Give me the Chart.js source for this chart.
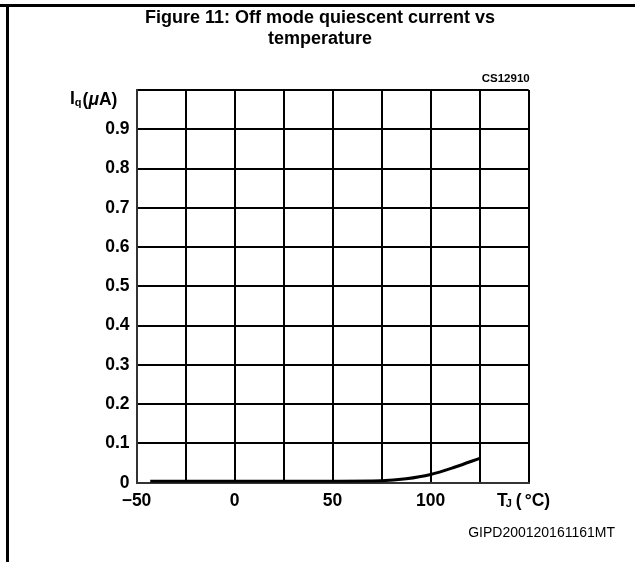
<!DOCTYPE html>
<html lang="en">
<head>
<meta charset="UTF-8">
<title>Figure 11: Off mode quiescent current vs temperature</title>
<script src="https://cdn.jsdelivr.net/npm/chart.js"></script>
<style>
    * { margin: 0; padding: 0; box-sizing: border-box; }
    body { background: #fff; width: 635px; height: 562px; overflow: hidden; }
    #wrap { position: relative; width: 635px; height: 562px; }
</style>
</head>
<body>
<div id="wrap"><canvas id="chart" width="635" height="562"></canvas></div>
<script>
    // data
    const tempC = [-43, 0, 50, 75, 87.5, 100, 112.5, 125];
    const iqUA = [0.004, 0.004, 0.004, 0.005, 0.010, 0.021, 0.040, 0.062];

    // labelled ticks
    const xTickLabels = [-50, 0, 50, 100];
    const yTickLabels = [0, 0.1, 0.2, 0.3, 0.4, 0.5, 0.6, 0.7, 0.8, 0.9];

    const titleLines = ['Figure 11: Off mode quiescent current vs', 'temperature'];
    const figCode = 'CS12910';
    const docCode = 'GIPD200120161161MT';

    const TICKFONT = 'bold 17.5px "Liberation Sans", Arial, sans-serif';
    const SUBFONT = 'bold 11px "Liberation Sans", Arial, sans-serif';

    // draws title, page frame, tick labels and axis names
    const decorations = {
        id: 'decorations',
        afterDraw(chart) {
            const ctx = chart.ctx;
            const xs = chart.scales.x, ys = chart.scales.y;
            ctx.save();

            // page frame
            ctx.strokeStyle = '#000';
            ctx.lineWidth = 3;
            ctx.beginPath();
            ctx.moveTo(0, 5.5); ctx.lineTo(635, 5.5);
            ctx.moveTo(7.5, 5); ctx.lineTo(7.5, 562);
            ctx.stroke();

            ctx.fillStyle = '#000';
            ctx.textAlign = 'center';
            ctx.textBaseline = 'middle';
            ctx.font = 'bold 18px "Liberation Sans", Arial, sans-serif';
            ctx.fillText(titleLines[0], 320, 18);
            ctx.fillText(titleLines[1], 320, 39);

            ctx.textAlign = 'right';
            ctx.font = 'bold 11.5px "Liberation Sans Narrow", "Liberation Sans", Arial, sans-serif';
            ctx.fillText(figCode, xs.right + 1, 79);

            ctx.font = '14px "Liberation Sans", Arial, sans-serif';
            ctx.fillText(docCode, 615, 533);

            // y tick labels
            ctx.font = TICKFONT;
            yTickLabels.forEach(v => {
                ctx.fillText(String(v), xs.left - 7, ys.getPixelForValue(v));
            });

            // x tick labels
            ctx.textAlign = 'center';
            xTickLabels.forEach(v => {
                const s = v < 0 ? '\u2212' + Math.abs(v) : String(v);
                ctx.fillText(s, xs.getPixelForValue(v), ys.bottom + 18);
            });

            // y axis name: Iq(μA)
            let x = 70, y = 100;
            ctx.textAlign = 'left';
            ctx.font = TICKFONT;
            ctx.fillText('I', x, y - 1);
            x += ctx.measureText('I').width;
            ctx.font = SUBFONT;
            ctx.fillText('q', x, y + 3);
            x += ctx.measureText('q').width + 1;
            ctx.font = TICKFONT;
            ctx.fillText('(', x, y);
            x += ctx.measureText('(').width;
            ctx.font = 'italic bold 17.5px "Liberation Sans", Arial, sans-serif';
            ctx.fillText('\u03bc', x, y);
            x += ctx.measureText('\u03bc').width;
            ctx.font = TICKFONT;
            ctx.fillText('A)', x, y);

            // x axis name: TJ(°C)
            x = 497; y = ys.bottom + 18;
            ctx.fillText('T', x, y);
            x += ctx.measureText('T').width - 2;
            ctx.font = SUBFONT;
            ctx.fillText('J', x, y + 3);
            x += ctx.measureText('J').width + 4;
            ctx.font = TICKFONT;
            ctx.fillText('(', x, y);
            x += ctx.measureText('(').width + 3;
            ctx.fillText('\u00b0C)', x, y);

            ctx.restore();
        }
    };

    new Chart(document.getElementById('chart'), {
        type: 'line',
        data: {
            datasets: [{
                data: tempC.map((t, i) => ({ x: t, y: iqUA[i] })),
                borderColor: '#000',
                borderWidth: 3,
                pointRadius: 0,
                fill: false,
                cubicInterpolationMode: 'monotone'
            }]
        },
        options: {
            responsive: false,
            animation: false,
            events: [],
            layout: { padding: { left: 136.5, right: 106.3, top: 90, bottom: 79.3 } },
            plugins: { legend: { display: false }, tooltip: { enabled: false }, title: { display: false } },
            scales: {
                x: {
                    type: 'linear', min: -50, max: 150,
                    ticks: { stepSize: 25, display: false },
                    grid: { color: '#000', lineWidth: 2, drawTicks: false },
                    border: { color: '#333', width: 2 }
                },
                y: {
                    type: 'linear', min: 0, max: 1,
                    ticks: { stepSize: 0.1, display: false },
                    grid: { color: '#000', lineWidth: 2, drawTicks: false },
                    border: { color: '#333', width: 2 }
                }
            }
        },
        plugins: [decorations]
    });
</script>
</body>
</html>
